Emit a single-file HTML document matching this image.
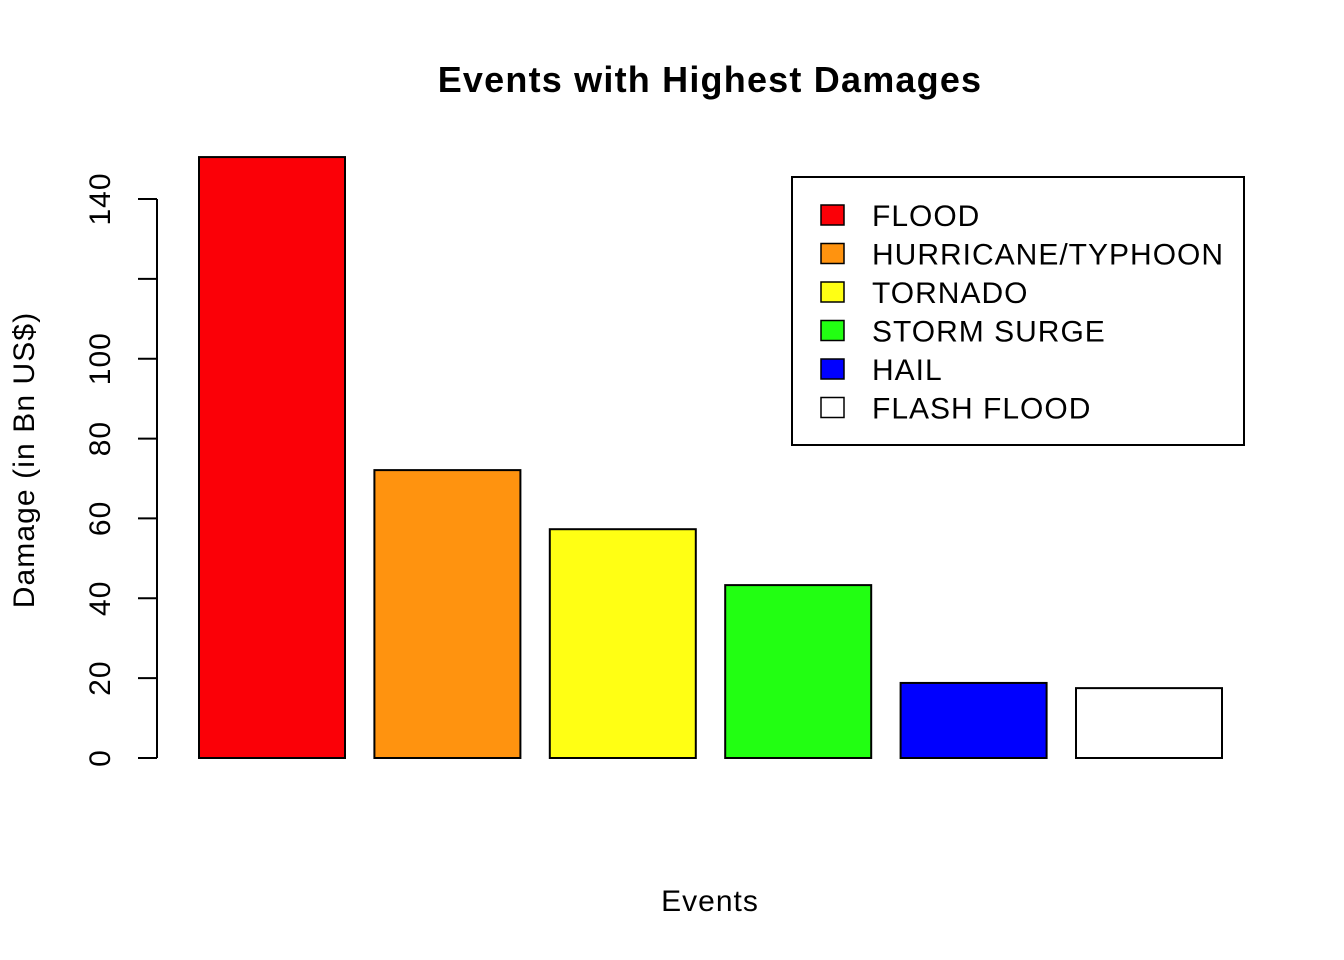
<!DOCTYPE html>
<html><head><meta charset="utf-8"><style>
body{margin:0;background:#fff}
svg{display:block;font-family:"Liberation Sans",Arial,sans-serif}
</style></head><body>
<svg id="chart" width="1344" height="960">
<text x="710" y="92" text-anchor="middle" font-size="36" font-weight="bold" letter-spacing="1.2">Events with Highest Damages</text>
<text x="710" y="911" text-anchor="middle" font-size="30" letter-spacing="1">Events</text>
<text transform="translate(34,460) rotate(-90)" text-anchor="middle" font-size="30" letter-spacing="1.1">Damage (in Bn US$)</text>
<g id="axis"></g>
<g id="bars"></g>
<g id="legend"></g>
</svg>
<script>
const categories=["FLOOD","HURRICANE/TYPHOON","TORNADO","STORM SURGE","HAIL","FLASH FLOOD"];
const values=[150.5,72.1,57.3,43.3,18.8,17.5];
const colors=["#fb0007","#ff930f","#ffff14","#22ff12","#0000ff","#ffffff"];
const ticks=[0,20,40,60,80,100,120,140];
const tickLabels=["0","20","40","60","80","100","","140"];
const NS="http://www.w3.org/2000/svg";
function y(v){return 758-v*(758-199)/140;}
function x(i){return 199+i*175.4;}
function mk(t,a,p){const e=document.createElementNS(NS,t);for(const k in a)e.setAttribute(k,a[k]);p.appendChild(e);return e;}
const ax=document.getElementById('axis');
let l=mk('line',{x1:157,x2:157,y1:y(0),y2:y(140),stroke:'#000','stroke-width':2},ax);


ticks.forEach((t,i)=>{
 const tk=mk('line',{x1:138,x2:157,y1:y(t),y2:y(t),stroke:'#000','stroke-width':2},ax);
 
 
 if(tickLabels[i]){
  const tx=mk('text',{transform:`translate(110,${y(t)}) rotate(-90)`,'text-anchor':'middle','font-size':30,'letter-spacing':1},ax);
  tx.textContent=tickLabels[i];
  
  
 }
});
const bg=document.getElementById('bars');
values.forEach((v,i)=>{
 const r=mk('rect',{x:x(i),y:y(v),width:146,height:y(0)-y(v),fill:colors[i],stroke:'#000','stroke-width':2},bg);
 
 
});
const lg=document.getElementById('legend');
const box=mk('rect',{x:792,y:177,width:452,height:268,fill:'#fff',stroke:'#000','stroke-width':2},lg);


categories.forEach((c,i)=>{
 const cy=215+i*38.5;
 const s=mk('rect',{x:821,y:cy-10,width:23,height:20,fill:colors[i],stroke:'#000','stroke-width':1.5},lg);
 
 
 const t=mk('text',{x:872,y:cy+11,'font-size':30,'letter-spacing':1},lg);
 t.textContent=c;
 
 
});
</script>
</body></html>
